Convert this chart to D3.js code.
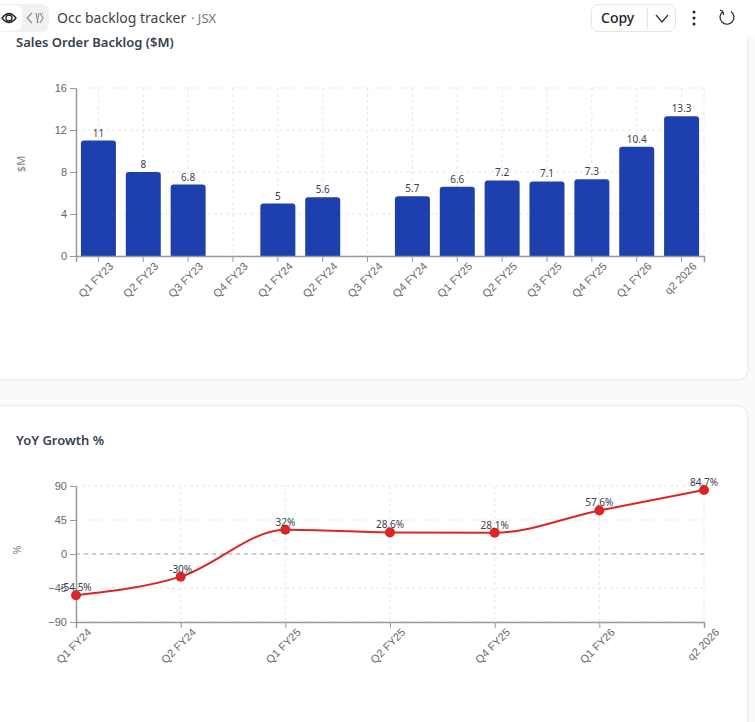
<!DOCTYPE html>
<html>
<head>
  <script src="https://d3js.org/d3.v7.min.js"></script>
  <style>
    html, body { margin: 0; padding: 0; background: #f8fafc; overflow: hidden; }
    svg { display: block; font-family: "Noto Sans", "Open Sans", sans-serif; }
    .grid line { stroke: #e5e7eb; stroke-dasharray: 3 3; }
    .axis .domain, .axis line { stroke: #9a9a9a; }
    .axis .domain { stroke-width: 1.5; }
    .axis text { fill: #666; font-size: 11px; }
    .vlabel { fill: #374151; font-size: 10px; text-anchor: middle; }
    .ylab { fill: #888; font-size: 11px; text-anchor: middle; }
    .title { fill: #374151; font-size: 13px; font-weight: 600; }
    .head { fill: #3f3f46; font-size: 14px; }
  </style>
</head>
<body>
  <svg id="p" width="755" height="722"></svg>
  <script>
    // values
    const barQuarters = ["Q1 FY23", "Q2 FY23", "Q3 FY23", "Q4 FY23", "Q1 FY24", "Q2 FY24", "Q3 FY24",
                         "Q4 FY24", "Q1 FY25", "Q2 FY25", "Q3 FY25", "Q4 FY25", "Q1 FY26", "q2 2026"];
    const backlog = [11, 8, 6.8, null, 5, 5.6, null, 5.7, 6.6, 7.2, 7.1, 7.3, 10.4, 13.3];
    const backlogTicks = [0, 4, 8, 12, 16];

    const growthQuarters = ["Q1 FY24", "Q2 FY24", "Q1 FY25", "Q2 FY25", "Q4 FY25", "Q1 FY26", "q2 2026"];
    const growth = [-54.5, -30, 32, 28.6, 28.1, 57.6, 84.7];
    const growthTicks = [-90, -45, 0, 45, 90];

    const svg = d3.select("svg#p");
    const left = 76, right = 704;

    // cards
    const cards = svg.append("g");
    cards.append("rect").attr("x", -20).attr("y", -20).attr("width", 768).attr("height", 400)
         .attr("rx", 10).attr("fill", "#fff").attr("stroke", "#e2e8f0");
    cards.append("rect").attr("x", -20).attr("y", 406).attr("width", 768).attr("height", 340)
         .attr("rx", 10).attr("fill", "#fff").attr("stroke", "#e2e8f0");

    function rotateTicks(g) {
      g.selectAll("text")
       .attr("text-anchor", "end")
       .attr("dx", "0.3em")
       .attr("dy", "0.9em")
       .attr("transform", "rotate(-45)");
    }

    // bar chart
    const barTop = 88, barBottom = 256;
    const xBar = d3.scaleBand().domain(barQuarters).range([left, right]);
    const yBar = d3.scaleLinear().domain([0, 16]).range([barBottom, barTop]);

    const barChart = svg.append("g");
    barChart.append("g").attr("class", "grid")
      .selectAll("line").data(backlogTicks).join("line")
      .attr("x1", left).attr("x2", right).attr("y1", d => yBar(d)).attr("y2", d => yBar(d));
    barChart.append("g").attr("class", "grid")
      .selectAll("line").data(barQuarters).join("line")
      .attr("x1", d => xBar(d) + xBar.bandwidth() / 2).attr("x2", d => xBar(d) + xBar.bandwidth() / 2)
      .attr("y1", barTop).attr("y2", barBottom);
    barChart.append("line").attr("class", "grid")
      .attr("x1", right).attr("x2", right).attr("y1", barTop).attr("y2", barBottom)
      .attr("stroke", "#e5e7eb").attr("stroke-dasharray", "3 3");

    const barData = barQuarters.map((q, i) => ({q: q, v: backlog[i]})).filter(d => d.v !== null);
    const barW = 35;
    barChart.append("g").selectAll("path").data(barData).join("path")
      .attr("fill", "#1e40af")
      .attr("d", d => {
        const x = xBar(d.q) + (xBar.bandwidth() - barW) / 2, y = yBar(d.v), r = 3;
        return `M${x},${barBottom}V${y + r}Q${x},${y} ${x + r},${y}H${x + barW - r}Q${x + barW},${y} ${x + barW},${y + r}V${barBottom}Z`;
      });
    barChart.append("g").selectAll("text").data(barData).join("text")
      .attr("class", "vlabel")
      .attr("x", d => xBar(d.q) + xBar.bandwidth() / 2)
      .attr("y", d => yBar(d.v) - 4)
      .text(d => d.v);

    barChart.append("g").attr("class", "axis")
      .attr("transform", `translate(0,${barBottom})`)
      .call(d3.axisBottom(xBar).tickSizeOuter(0).tickSize(6))
      .call(rotateTicks);
    barChart.append("g").attr("class", "axis")
      .attr("transform", `translate(${left},0)`)
      .call(d3.axisLeft(yBar).tickValues(backlogTicks).tickSize(6).tickSizeOuter(0));
    barChart.append("text").attr("class", "ylab")
      .attr("transform", "translate(25,164) rotate(-90)").text("$M");

    // line chart
    const lineTop = 486, lineBottom = 622;
    const xLine = d3.scalePoint().domain(growthQuarters).range([left, right]);
    const yLine = d3.scaleLinear().domain([-90, 90]).range([lineBottom, lineTop]);

    const lineChart = svg.append("g");
    lineChart.append("g").attr("class", "grid")
      .selectAll("line").data(growthTicks).join("line")
      .attr("x1", left).attr("x2", right).attr("y1", d => yLine(d)).attr("y2", d => yLine(d));
    lineChart.append("g").attr("class", "grid")
      .selectAll("line").data(growthQuarters).join("line")
      .attr("x1", d => xLine(d)).attr("x2", d => xLine(d))
      .attr("y1", lineTop).attr("y2", lineBottom);
    lineChart.append("line")
      .attr("x1", left).attr("x2", right).attr("y1", yLine(0)).attr("y2", yLine(0))
      .attr("stroke", "#a3a3a3").attr("stroke-width", 1.2).attr("stroke-dasharray", "4 4");

    lineChart.append("g").attr("class", "axis")
      .attr("transform", `translate(0,${lineBottom})`)
      .call(d3.axisBottom(xLine).tickSizeOuter(0).tickSize(6))
      .call(rotateTicks);
    lineChart.append("g").attr("class", "axis")
      .attr("transform", `translate(${left},0)`)
      .call(d3.axisLeft(yLine).tickValues(growthTicks).tickSize(6).tickSizeOuter(0));
    lineChart.append("text").attr("class", "ylab")
      .attr("transform", "translate(21,550) rotate(-90)").text("%");

    const lineData = growthQuarters.map((q, i) => ({q: q, v: growth[i]}));
    const line = d3.line().x(d => xLine(d.q)).y(d => yLine(d.v)).curve(d3.curveMonotoneX);
    lineChart.append("path").datum(lineData)
      .attr("d", line).attr("fill", "none").attr("stroke", "#dc2626").attr("stroke-width", 2);
    lineChart.append("g").selectAll("circle").data(lineData).join("circle")
      .attr("cx", d => xLine(d.q)).attr("cy", d => yLine(d.v)).attr("r", 5)
      .attr("fill", "#dc2626");
    lineChart.append("g").selectAll("text").data(lineData).join("text")
      .attr("class", "vlabel")
      .attr("x", d => xLine(d.q))
      .attr("y", d => yLine(d.v) - 4)
      .text(d => d.v + "%");

    // chart titles, the first one runs under the header bar
    svg.append("text").attr("class", "title").attr("x", 16).attr("y", 47).text("Sales Order Backlog ($M)");
    svg.append("text").attr("class", "title").attr("x", 16).attr("y", 445).text("YoY Growth %");

    // header bar
    const header = svg.append("g");
    header.append("rect").attr("width", 755).attr("height", 37).attr("fill", "#fff");
    header.append("rect").attr("x", -8).attr("y", 4).attr("width", 57).attr("height", 28).attr("rx", 8).attr("fill", "#f1f1f1");
    header.append("rect").attr("x", -8).attr("y", 5).attr("width", 30).attr("height", 26).attr("rx", 7).attr("fill", "#fff");
    header.append("path").attr("d", "M2,18Q9,9 16,18Q9,27 2,18Z").attr("fill", "none").attr("stroke", "#222").attr("stroke-width", 1.3);
    header.append("circle").attr("cx", 9).attr("cy", 18).attr("r", 3).attr("fill", "none").attr("stroke", "#222").attr("stroke-width", 1.3);
    header.append("path").attr("d", "M32,13L27,18L32,23M37,23L39,13M38,13M42,13L43,13M38,13")
      .attr("fill", "none").attr("stroke", "#888").attr("stroke-width", 1.1);
    header.append("path").attr("d", "M38,23L36,13M40,13L43,18L40,23").attr("fill", "none").attr("stroke", "#888").attr("stroke-width", 1.1);
    header.append("text").attr("class", "head").attr("x", 57).attr("y", 23).text("Occ backlog tracker");
    header.append("text").attr("class", "head").attr("x", 191).attr("y", 23).attr("fill", "#999")
      .style("fill", "#777").style("font-size", "13px").text("· JSX");

    header.append("rect").attr("x", 591.5).attr("y", 4.5).attr("width", 84).attr("height", 27).attr("rx", 7)
      .attr("fill", "#fff").attr("stroke", "#e5e5e5");
    header.append("text").attr("x", 601).attr("y", 23).attr("fill", "#222").style("font-size", "14px").style("font-weight", 500).text("Copy");
    header.append("line").attr("x1", 647.5).attr("x2", 647.5).attr("y1", 8).attr("y2", 28).attr("stroke", "#e5e5e5");
    header.append("path").attr("d", "M656,15L662,22L668,15").attr("fill", "none").attr("stroke", "#333").attr("stroke-width", 1.2);
    header.append("g").selectAll("circle").data([12, 18, 24]).join("circle")
      .attr("cx", 694).attr("cy", d => d).attr("r", 1.5).attr("fill", "#222");
    header.append("path").attr("d", "M723,11.5A7,7 0 1 0 731,11.5M723,11.5L720,10M723,11.5L723.5,15")
      .attr("fill", "none").attr("stroke", "#222").attr("stroke-width", 1.2);
  </script>
</body>
</html>
